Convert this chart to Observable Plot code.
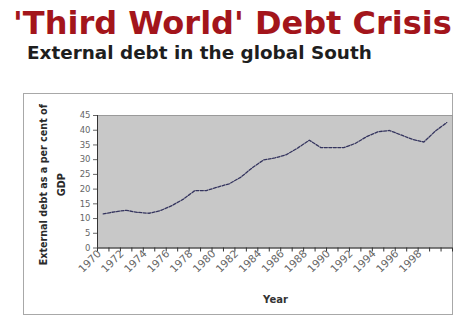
<!DOCTYPE html>
<html>
<head>
<meta charset="utf-8">
<script src="https://cdn.jsdelivr.net/npm/d3@7"></script>
<script src="https://cdn.jsdelivr.net/npm/@observablehq/plot@0.6"></script>
<style>
  html, body { margin: 0; padding: 0; background: #fff; }
  #wrap { position: relative; width: 457px; height: 317px; overflow: hidden; background: #fff; }
  #title { position: absolute; left: 13px; top: 7px; font: bold 32px "DejaVu Sans", sans-serif; line-height: 1; color: #a3151b; white-space: nowrap; }
  #subtitle { position: absolute; left: 27px; top: 44px; font: bold 18.4px "DejaVu Sans", sans-serif; line-height: 1; color: #1e1e1e; white-space: nowrap; }
  #box { position: absolute; left: 23px; top: 93px; width: 430px; height: 222px; box-sizing: border-box; border: 1px solid #a8a8a8; }
  #chart { position: absolute; left: 0; top: 93px; }
  #chart svg { overflow: visible; }
</style>
</head>
<body>
<div id="wrap">
  <div id="title">'Third World' Debt Crisis</div>
  <div id="subtitle">External debt in the global South</div>
  <div id="box"></div>
  <div id="chart"></div>
</div>
<script>
const years = [1970, 1971, 1972, 1973, 1974, 1975, 1976, 1977, 1978, 1979,
               1980, 1981, 1982, 1983, 1984, 1985, 1986, 1987, 1988, 1989,
               1990, 1991, 1992, 1993, 1994, 1995, 1996, 1997, 1998, 1999, 2000];
const debt = [11.6, 12.3, 12.8, 12.1, 11.8, 12.7, 14.4, 16.6, 19.5, 19.5,
              20.7, 21.8, 24.0, 27.2, 29.9, 30.6, 31.7, 34.0, 36.6, 34.1,
              34.1, 34.1, 35.5, 37.8, 39.5, 39.9, 38.4, 36.9, 36.0, 39.7, 42.6];
const xLabels = [1970, 1972, 1974, 1976, 1978, 1980, 1982, 1984, 1986, 1988, 1990, 1992, 1994, 1996, 1998];
const yTicks = [0, 5, 10, 15, 20, 25, 30, 35, 40, 45];
const yTitle1 = "External debt as a per cent of";
const yTitle2 = "GDP";
const xTitle = "Year";

const data = years.map((y, i) => ({year: y, debt: debt[i]}));
const boundaries = years.map(y => y - 0.5).concat([years[years.length - 1] + 0.5]);

const chart = Plot.plot({
  width: 457,
  height: 222,
  marginLeft: 97,
  marginRight: 5,
  marginTop: 22,
  marginBottom: 67.5,
  style: {fontFamily: "'DejaVu Sans', sans-serif", background: "transparent"},
  x: {domain: [years[0] - 0.5, years[years.length - 1] + 0.5]},
  y: {domain: [0, 45]},
  marks: [
    Plot.frame({fill: "#c8c8c8", stroke: "#9a9a9a"}),
    Plot.line(data, {x: "year", y: "debt", stroke: "#34345e", strokeWidth: 1.3, strokeDasharray: "3,1.5"}),
    Plot.ruleY([0], {stroke: "#333"}),
    Plot.ruleX([years[0] - 0.5], {stroke: "#333"}),
    Plot.axisY({ticks: yTicks, tickSize: 4, tickPadding: 3, fontSize: 8.5, color: "#666", label: null, tickFormat: d => String(d)}),
    Plot.axisX({ticks: boundaries, tickSize: 4, tickFormat: () => "", label: null, color: "#333"}),
    Plot.axisX({ticks: xLabels, tickSize: 0, tickPadding: 4, tickRotate: -45, fontSize: 10.5, color: "#666", label: null, tickFormat: d => String(d), dx: -4}),
    Plot.text([yTitle1], {frameAnchor: "left", textAnchor: "middle", rotate: -90, dx: -54, dy: 3, fontSize: 9.6, fontWeight: "bold", fill: "#2a2a2a", text: d => d}),
    Plot.text([yTitle2], {frameAnchor: "left", textAnchor: "middle", rotate: -90, dx: -36, dy: 3, fontSize: 9.6, fontWeight: "bold", fill: "#2a2a2a", text: d => d}),
    Plot.text([xTitle], {frameAnchor: "bottom", dx: 0.5, dy: 55, fontSize: 10, fontWeight: "bold", fill: "#333", text: d => d})
  ]
});
document.getElementById("chart").appendChild(chart);
</script>
</body>
</html>
